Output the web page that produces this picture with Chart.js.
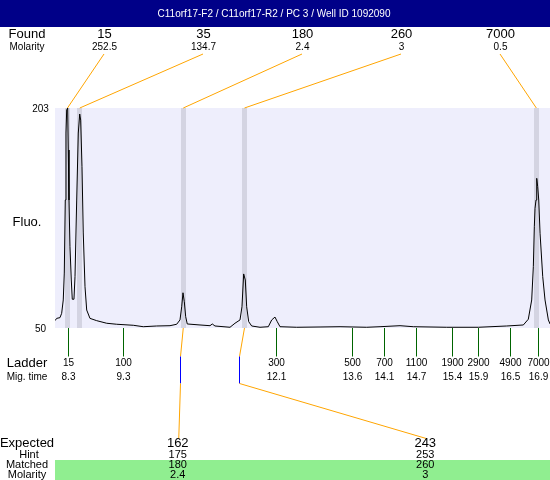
<!DOCTYPE html>
<html>
<head>
<meta charset="utf-8">
<script src="https://cdn.jsdelivr.net/npm/chart.js@4.4.1/dist/chart.umd.min.js"></script>
<style>
  html, body { margin: 0; padding: 0; background: #ffffff; }
  canvas { display: block; }
</style>
</head>
<body>
<canvas id="c" width="550" height="480"></canvas>
<script>
// ---- data ----
const title = 'C11orf17-F2 / C11orf17-R2 / PC 3 / Well ID 1092090';
const yTicks = [50, 203];

const foundSizes = [15, 35, 180, 260, 7000];
const foundMolarity = ['252.5', '134.7', '2.4', '3', '0.5'];
const foundTimes = [8.296, 8.521, 10.415, 11.535, 16.875];

const ladderSizes = [15, 100, 300, 500, 700, 1100, 1900, 2900, 4900, 7000];
const ladderTimeLabels = ['8.3', '9.3', '12.1', '13.6', '14.1', '14.7', '15.4', '15.9', '16.5', '16.9'];
const ladderTimes = [8.30, 9.31, 12.11, 13.51, 14.09, 14.68, 15.34, 15.81, 16.40, 16.90];

const expectedSizes = [162, 243];
const expectedTimes = [10.355, 11.44];
const hintSizes = [175, 253];
const matchedSizes = [180, 260];
const matchedMolarity = ['2.4', '3'];
const matchedPeakIndex = [2, 3];

const traceTime = [8.068, 8.099, 8.159, 8.190, 8.219, 8.238, 8.256, 8.269, 8.282, 8.300,
  8.311, 8.324, 8.342, 8.366, 8.384, 8.415, 8.434, 8.465, 8.494, 8.520,
  8.538, 8.562, 8.585, 8.617, 8.648, 8.708, 8.831, 9.014, 9.197, 9.500,
  9.683, 9.929, 10.172, 10.294, 10.355, 10.386, 10.410, 10.434, 10.459, 10.488,
  10.721, 10.904, 10.946, 10.995, 11.270, 11.361, 11.453, 11.489, 11.520, 11.550,
  11.575, 11.612, 11.667, 11.819, 11.971, 12.033, 12.093, 12.135, 12.185, 12.490,
  12.917, 13.283, 13.771, 14.015, 14.381, 14.624, 15.235, 15.815, 16.333, 16.637,
  16.728, 16.790, 16.820, 16.838, 16.851, 16.869, 16.882, 16.900, 16.919, 16.943,
  16.992, 17.034, 17.095, 17.126];
const traceFluo = [55.1, 56.7, 57.2, 60.2, 69.5, 88.2, 139.0, 185.6, 201.6, 203.0,
  173.8, 139.0, 106.5, 83.4, 70.0, 70.0, 85.7, 139.0, 185.6, 198.8,
  194.6, 162.2, 116.1, 78.7, 62.5, 56.7, 55.1, 53.3, 52.6, 51.9,
  50.9, 51.4, 51.6, 52.6, 55.6, 64.8, 74.5, 68.3, 57.9, 52.8,
  52.1, 51.6, 52.8, 51.4, 50.5, 53.3, 55.6, 64.8, 87.6, 83.4,
  64.8, 54.4, 51.4, 50.5, 50.9, 55.6, 57.6, 54.4, 50.9, 50.5,
  50.7, 50.9, 50.5, 50.9, 51.6, 50.9, 50.5, 50.5, 51.4, 52.1,
  56.1, 69.5, 92.6, 120.4, 133.2, 139.0, 154.1, 148.3, 139.0, 115.9,
  85.7, 69.5, 55.6, 52.8];

const xMin = 8.068, xMax = 17.125;

// ---- drawing ----
const FONT = '"Liberation Sans", Arial, sans-serif';
function txt(ctx, s, x, y, size, align, color) {
  ctx.font = size + 'px ' + FONT;
  ctx.textAlign = align || 'center';
  ctx.textBaseline = 'middle';
  ctx.fillStyle = color || '#000';
  ctx.fillText(String(s), x, y);
}
function line(ctx, pts, color) {
  ctx.beginPath();
  ctx.strokeStyle = color;
  ctx.lineWidth = 1;
  ctx.moveTo(pts[0][0], pts[0][1]);
  for (let i = 1; i < pts.length; i++) ctx.lineTo(pts[i][0], pts[i][1]);
  ctx.stroke();
}

const decor = {
  id: 'decor',
  beforeDatasetsDraw(chart) {
    const { ctx, chartArea: a, scales: { x } } = chart;
    ctx.save();
    ctx.fillStyle = '#eeeefc';
    ctx.fillRect(a.left, a.top, a.right - a.left, a.bottom - a.top);
    ctx.fillStyle = '#d4d4e2';
    foundTimes.forEach(t => {
      const px = x.getPixelForValue(t);
      ctx.fillRect(Math.round(px - 2.5), a.top, 5, a.bottom - a.top);
    });
    ctx.restore();
  },
  afterDatasetsDraw(chart) {
    const { ctx, chartArea: a, scales: { x, y } } = chart;
    const W = chart.width;
    ctx.save();
    // title bar
    ctx.fillStyle = '#000088';
    ctx.fillRect(0, 0, W, 27);
    txt(ctx, title, 274, 14, 10, 'center', '#ffffff');

    const labX = 27;
    // found rows
    txt(ctx, 'Found', labX, 34.5, 13);
    txt(ctx, 'Molarity', labX, 47, 10);
    const colW = (a.right - a.left) / foundSizes.length;
    foundSizes.forEach((s, i) => {
      const cx = a.left + colW * (i + 0.5);
      txt(ctx, s, cx, 34.5, 13);
      txt(ctx, foundMolarity[i], cx, 47, 10);
      const px = x.getPixelForValue(foundTimes[i]);
      line(ctx, [[cx - 0.5, 54], [px, a.top]], '#ffa500');
    });

    // y labels
    yTicks.forEach(v => txt(ctx, v, 40.5, y.getPixelForValue(v) + 1, 10));
    txt(ctx, 'Fluo.', labX, 222, 13);

    // ladder
    txt(ctx, 'Ladder', labX, 363.5, 13);
    txt(ctx, 'Mig. time', labX, 377, 10);
    ladderSizes.forEach((s, i) => {
      const px = Math.round(x.getPixelForValue(ladderTimes[i])) + 0.5;
      line(ctx, [[px, a.bottom], [px, 356.5]], '#006400');
      txt(ctx, s, px, 363.5, 10);
      txt(ctx, ladderTimeLabels[i], px, 377, 10);
    });

    // expected / matched links
    const eColW = (a.right - a.left) / expectedSizes.length;
    expectedSizes.forEach((s, k) => {
      const cx = a.left + eColW * (k + 0.5);
      const pk = x.getPixelForValue(foundTimes[matchedPeakIndex[k]]);
      const ex = Math.round(x.getPixelForValue(expectedTimes[k])) + 0.5;
      line(ctx, [[pk, a.bottom], [ex, 356.5]], '#ffa500');
      line(ctx, [[ex, 356.5], [ex, 383.5]], '#0000ff');
      line(ctx, [[ex, 383.5], [cx, 438.5]], '#ffa500');
    });

    // bottom table
    ctx.fillStyle = '#90ee90';
    ctx.fillRect(a.left, 460, a.right - a.left, 20);
    txt(ctx, 'Expected', labX, 443.5, 13);
    txt(ctx, 'Hint', labX + 2, 455, 11);
    txt(ctx, 'Matched', labX, 465, 11);
    txt(ctx, 'Molarity', labX, 474.5, 11);
    expectedSizes.forEach((s, k) => {
      const cx = a.left + eColW * (k + 0.5) - 1;
      txt(ctx, s, cx, 443.5, 13);
      txt(ctx, hintSizes[k], cx, 455, 11);
      txt(ctx, matchedSizes[k], cx, 465, 11);
      txt(ctx, matchedMolarity[k], cx, 474.5, 11);
    });
    ctx.restore();
  }
};

new Chart(document.getElementById('c'), {
  type: 'line',
  data: {
    datasets: [{
      data: traceTime.map((t, i) => ({ x: t, y: traceFluo[i] })),
      borderColor: '#000000',
      borderWidth: 1,
      pointRadius: 0,
      tension: 0,
      fill: false
    }]
  },
  options: {
    responsive: false,
    animation: false,
    devicePixelRatio: 1,
    layout: { padding: { left: 55, right: 0, top: 108, bottom: 152 } },
    plugins: { legend: { display: false }, tooltip: { enabled: false } },
    scales: {
      x: { type: 'linear', min: xMin, max: xMax, display: false },
      y: { type: 'linear', min: 50, max: 203, display: false }
    }
  },
  plugins: [decor]
});
</script>
</body>
</html>
